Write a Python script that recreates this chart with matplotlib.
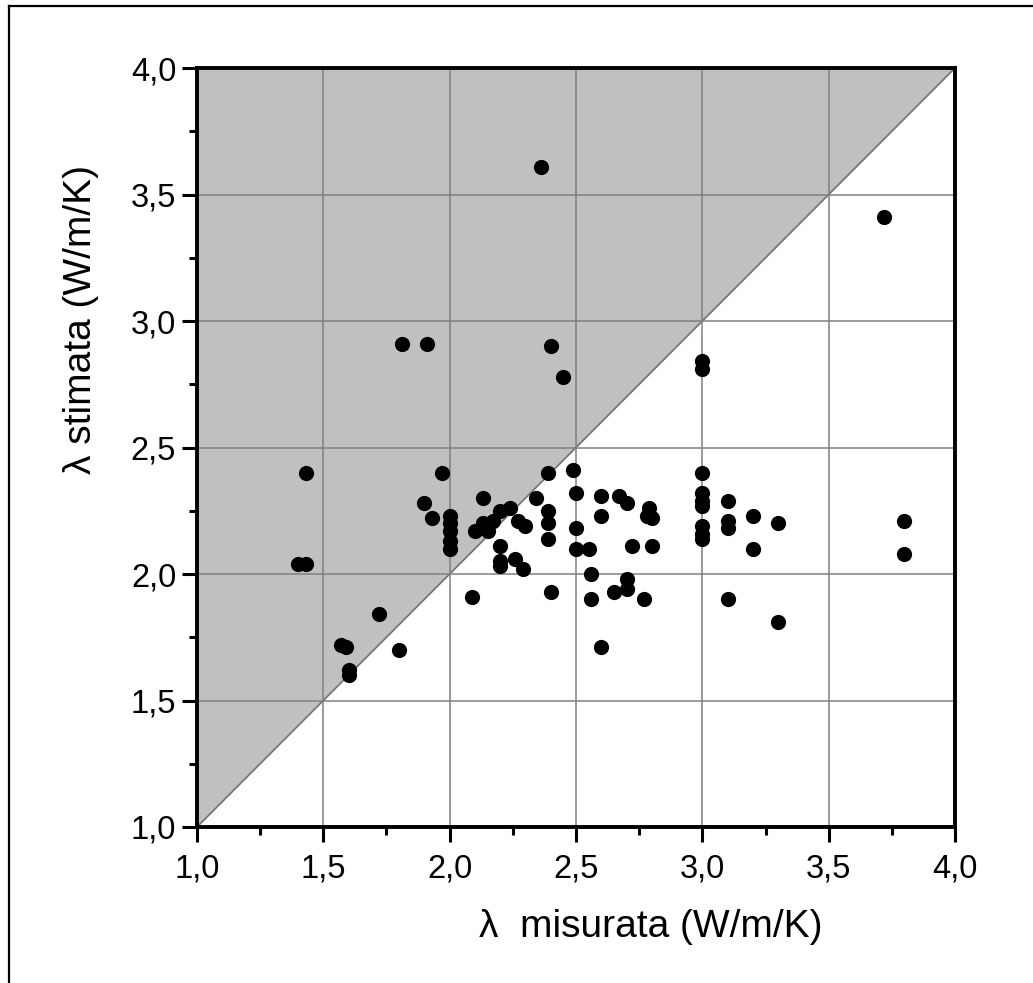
import matplotlib
matplotlib.use("Agg")
import matplotlib.pyplot as plt
from matplotlib.lines import Line2D
from matplotlib.ticker import MultipleLocator

plt.rcParams["font.family"] = ["Liberation Sans", "DejaVu Sans"]

# measured conductivity (x) vs estimated conductivity (y), W/m/K
lam_measured = [
    2.36, 3.72, 1.81, 1.91, 2.40, 2.45, 3.00, 3.00,
    1.43, 1.97, 1.40, 1.43, 1.90, 1.93,
    2.00, 2.00, 2.00, 2.00, 2.00,
    2.09, 1.72, 1.57, 1.59, 1.80, 1.60, 1.60,
    2.39, 2.49, 2.13, 2.34, 2.50, 2.60, 2.67, 2.70, 2.60,
    2.79, 2.78, 2.80, 3.00, 3.00, 3.00, 3.00, 3.00, 3.00, 3.00,
    3.10, 3.10, 3.10, 2.72, 2.80, 3.10,
    2.39, 2.39, 2.39, 2.50, 2.50, 2.55, 2.56, 2.56, 2.65, 2.70, 2.70, 2.77,
    2.60, 2.40,
    2.10, 2.13, 2.17, 2.15, 2.20, 2.24, 2.27, 2.30,
    2.20, 2.20, 2.20, 2.26, 2.29,
    3.20, 3.30, 3.20, 3.30, 3.80, 3.80,
]
lam_estimated = [
    3.61, 3.41, 2.91, 2.91, 2.90, 2.78, 2.84, 2.81,
    2.40, 2.40, 2.04, 2.04, 2.28, 2.22,
    2.23, 2.20, 2.17, 2.13, 2.10,
    1.91, 1.84, 1.72, 1.71, 1.70, 1.62, 1.60,
    2.40, 2.41, 2.30, 2.30, 2.32, 2.31, 2.31, 2.28, 2.23,
    2.26, 2.23, 2.22, 2.40, 2.32, 2.29, 2.27, 2.19, 2.16, 2.14,
    2.29, 2.21, 2.18, 2.11, 2.11, 1.90,
    2.25, 2.20, 2.14, 2.18, 2.10, 2.10, 2.00, 1.90, 1.93, 1.98, 1.94, 1.90,
    1.71, 1.93,
    2.17, 2.20, 2.21, 2.17, 2.25, 2.26, 2.21, 2.19,
    2.11, 2.05, 2.03, 2.06, 2.02,
    2.23, 2.20, 2.10, 1.81, 2.21, 2.08,
]

tick_values = [1.0, 1.5, 2.0, 2.5, 3.0, 3.5, 4.0]
tick_labels = ["1,0", "1,5", "2,0", "2,5", "3,0", "3,5", "4,0"]

fig = plt.figure(figsize=(10.33, 9.83), dpi=100)
ax = fig.add_axes([0.1907, 0.1587, 0.7338, 0.7721])

# shaded region above the 1:1 line
ax.fill([1, 1, 4], [1, 4, 4], color="#c0c0c0", zorder=0, lw=0)
ax.plot([1, 4], [1, 4], color="#707070", lw=1.2, zorder=1)

ax.set_xlim(1, 4)
ax.set_ylim(1, 4)
ax.set_xticks(tick_values)
ax.set_xticklabels(tick_labels)
ax.set_yticks(tick_values)
ax.set_yticklabels(tick_labels)
ax.xaxis.set_minor_locator(MultipleLocator(0.25))
ax.yaxis.set_minor_locator(MultipleLocator(0.25))
ax.grid(True, which="major", color="#808080", lw=1.1, zorder=1)
ax.set_axisbelow(False)

ax.tick_params(which="major", direction="out", length=11, width=2.2,
               labelsize=23.5, pad=4, colors="black")
ax.tick_params(axis="x", which="major", pad=8)
ax.tick_params(which="minor", direction="out", length=6, width=2.2)
for sp in ax.spines.values():
    sp.set_linewidth(2.8)
    sp.set_zorder(5)

ax.scatter(lam_measured, lam_estimated, s=120, color="black", zorder=4,
           linewidths=0)

fig.text(0.630, 0.057, "\u03bb  misurata (W/m/K)", fontsize=28,
         ha="center", va="center")
fig.text(0.0785, 0.6745, "\u03bb stimata (W/m/K)", fontsize=28,
         ha="center", va="center", rotation=90)

# outer frame (left and top edges visible in the original)
fig.add_artist(Line2D([9 / 1033, 9 / 1033], [0, 1 - 6 / 983],
                      transform=fig.transFigure, color="black", lw=1.6))
fig.add_artist(Line2D([9 / 1033, 1], [1 - 6 / 983, 1 - 6 / 983],
                      transform=fig.transFigure, color="black", lw=1.6))

fig.savefig("out.png", dpi=100)
